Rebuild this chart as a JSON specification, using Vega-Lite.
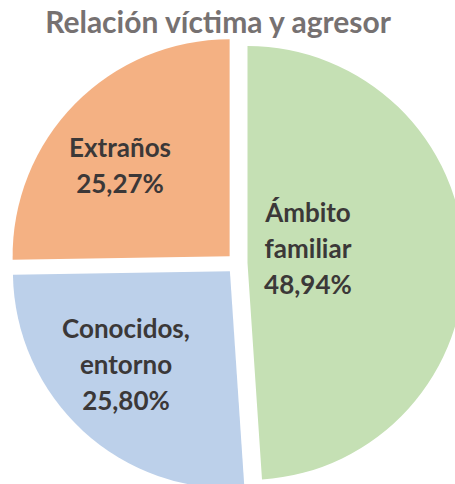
{
  "$schema": "https://vega.github.io/schema/vega-lite/v6.json",
  "width": 436,
  "height": 441,
  "autosize": "none",
  "padding": {"left": 19, "top": 43, "right": 0, "bottom": 0},
  "background": "white",
  "config": {"view": {"stroke": null}},
  "title": {
    "text": "Relación víctima y agresor",
    "font": "Lato",
    "fontSize": 30,
    "fontWeight": "bold",
    "color": "#767171",
    "anchor": "middle",
    "frame": "group",
    "offset": 0,
    "dx": -19
  },
  "data": {
    "values": [
      {"categoria": "Ámbito familiar", "etiqueta": "Ámbito\nfamiliar\n48,94%", "valor": 48.94, "orden": 1},
      {"categoria": "Conocidos, entorno", "etiqueta": "Conocidos,\nentorno\n25,80%", "valor": 25.80, "orden": 2},
      {"categoria": "Extraños", "etiqueta": "Extraños\n25,27%", "valor": 25.27, "orden": 3}
    ]
  },
  "encoding": {
    "theta": {"field": "valor", "type": "quantitative", "stack": true},
    "order": {"field": "orden", "type": "quantitative"},
    "color": {
      "field": "categoria",
      "type": "nominal",
      "scale": {"domain": ["Ámbito familiar", "Conocidos, entorno", "Extraños"], "range": ["#c5e0b4", "#bcd0ea", "#f4b183"]},
      "legend": null
    }
  },
  "layer": [
    {
      "mark": {"type": "arc", "outerRadius": 217, "xOffset": 10.5, "yOffset": -0.4},
      "encoding": {"opacity": {"condition": {"test": "datum.orden == 1", "value": 1}, "value": 0}}
    },
    {
      "mark": {"type": "arc", "outerRadius": 217, "xOffset": -7.1, "yOffset": 7.7},
      "encoding": {"opacity": {"condition": {"test": "datum.orden == 2", "value": 1}, "value": 0}}
    },
    {
      "mark": {"type": "arc", "outerRadius": 217, "xOffset": -7.4, "yOffset": -7.3},
      "encoding": {"opacity": {"condition": {"test": "datum.orden == 3", "value": 1}, "value": 0}}
    },
    {
      "mark": {"type": "text", "radius": 71, "dy": -47, "font": "Lato", "fontSize": 26, "fontWeight": "bold", "color": "#3b3838", "lineBreak": "\n", "lineHeight": 36, "baseline": "middle", "align": "center"},
      "encoding": {
        "color": {"value": "#3b3838"},
        "text": {"condition": {"test": "datum.orden == 1", "field": "etiqueta"}, "value": ""}
      }
    },
    {
      "mark": {"type": "text", "radius": 164, "dy": -54, "font": "Lato", "fontSize": 26, "fontWeight": "bold", "color": "#3b3838", "lineBreak": "\n", "lineHeight": 36, "baseline": "middle", "align": "center"},
      "encoding": {
        "color": {"value": "#3b3838"},
        "text": {"condition": {"test": "datum.orden == 2", "field": "etiqueta"}, "value": ""}
      }
    },
    {
      "mark": {"type": "text", "radius": 164, "dy": 0, "font": "Lato", "fontSize": 26, "fontWeight": "bold", "color": "#3b3838", "lineBreak": "\n", "lineHeight": 36, "baseline": "middle", "align": "center"},
      "encoding": {
        "color": {"value": "#3b3838"},
        "text": {"condition": {"test": "datum.orden == 3", "field": "etiqueta"}, "value": ""}
      }
    }
  ]
}
